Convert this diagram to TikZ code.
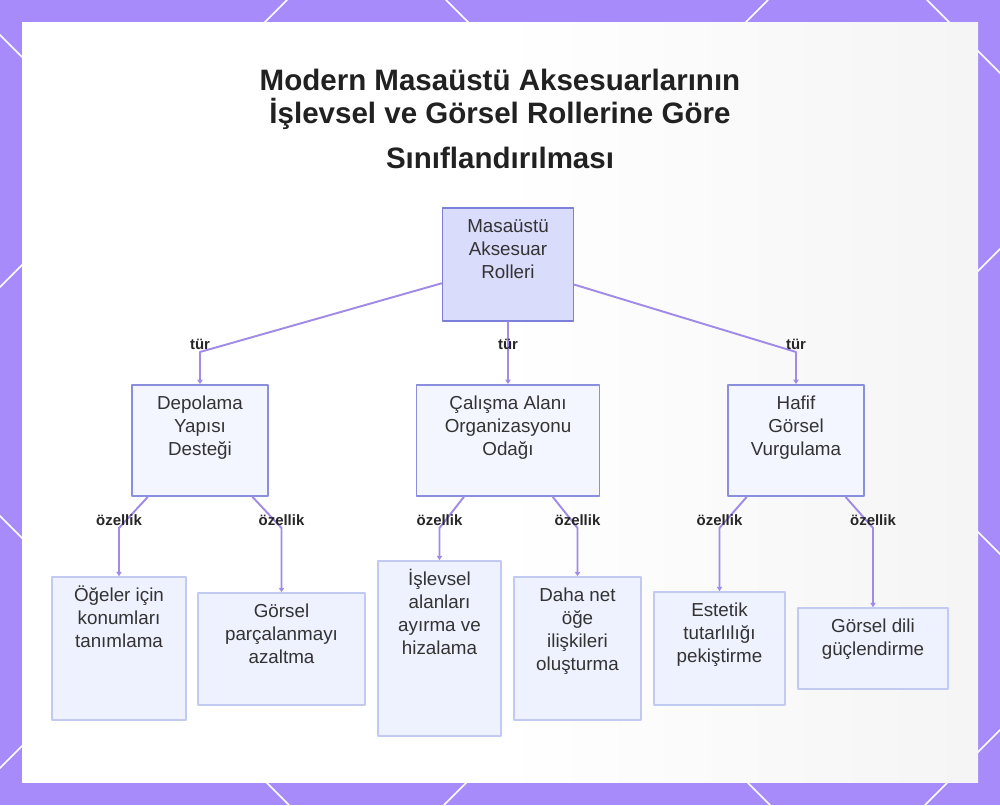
\documentclass[tikz,border=0pt]{standalone}
\usepackage{fontspec}
\setmainfont{Liberation Sans}
\usetikzlibrary{arrows,arrows.meta}

\definecolor{mor}{HTML}{A78BFA}
\definecolor{cizgi}{HTML}{A08BE6}
\definecolor{kokdolgu}{HTML}{DADCFB}
\definecolor{kokkenar}{HTML}{7C80DA}
\definecolor{aradolgu}{HTML}{F4F6FF}
\definecolor{arakenar}{HTML}{8A8EDC}
\definecolor{yaprakdolgu}{HTML}{EEF1FE}
\definecolor{yaprakkenar}{HTML}{C3CAF2}
\definecolor{yazi}{HTML}{333333}

\newlength{\birim}
\setlength{\birim}{0.02cm}
\newcommand{\kutu}[3]{\parbox[c][\dimexpr#2\birim-17\birim\relax][t]{\dimexpr#1\birim-17\birim\relax}{\centering\strut{}#3\strut}}

\tikzset{
  kutustil/.style={line width=1.1pt, inner sep=0.17cm, text=yazi, font=\fontsize{10.7}{13.1}\selectfont},
  kok/.style={kutustil, draw=kokkenar, fill=kokdolgu},
  ara/.style={kutustil, draw=arakenar, fill=aradolgu},
  yaprak/.style={kutustil, draw=yaprakkenar, fill=yaprakdolgu, line width=0.9pt},
  baglanti/.style={draw=cizgi, line width=1.1pt, -{Triangle[length=2.5pt,width=3pt]}},
  etiket/.style={font=\fontsize{8.5}{10}\selectfont\bfseries, text=black!85, inner sep=1pt, anchor=south},
}

\begin{document}
\begin{tikzpicture}[line cap=round,line join=round,x=0.02cm,y=-0.02cm]
		\useasboundingbox (0,0) rectangle (1000,805);
		%cerceve
		\fill[mor] (0,0) rectangle (1000,805);
		\begin{scope}
		\clip (0,0) rectangle (1000,805);
		\foreach \c in {287,768,1249,1730} \draw[white, line width=0.9pt] (\c,0) -- (\c-805,805);
		\foreach \c in {-516,-35,446,927} \draw[white, line width=0.9pt] (\c,0) -- (\c+805,805);
		\end{scope}
		\shade[left color=white, right color=black!4, middle color=white] (22,22) rectangle (978,782);
		%baslik
		\node[font=\fontsize{16.8}{18.4}\selectfont\bfseries, align=center, text=black!87] (baslik) at (500,119)
			{Modern Masaüstü Aksesuarlarının\\İşlevsel ve Görsel Rollerine Göre\\[0.26cm]Sınıflandırılması};
		%Kok
		\node[kok] (kok) at (508,264.5) {\kutu{131}{113}{Masaüstü\\Aksesuar\\Rolleri}};
		%Duzey 2
		\node[ara] (A) at (200,440.5) {\kutu{136}{111}{Depolama\\Yapısı\\Desteği}};
		\node[ara] (B) at (508,440.5) {\kutu{183}{111}{Çalışma Alanı\\Organizasyonu\\Odağı}};
		\node[ara] (C) at (796,440.5) {\kutu{136}{111}{Hafif\\Görsel\\Vurgulama}};
		%Yapraklar
		\node[yaprak] (A1) at (119,648.5) {\kutu{134}{143}{Öğeler için\\konumları\\tanımlama}};
		\node[yaprak] (A2) at (281.5,649) {\kutu{167}{112}{Görsel\\parçalanmayı\\azaltma}};
		\node[yaprak] (B1) at (439.5,648.5) {\kutu{123}{175}{İşlevsel\\alanları\\ayırma ve\\hizalama}};
		\node[yaprak] (B2) at (577.5,648.5) {\kutu{127}{143}{Daha net\\öğe\\ilişkileri\\oluşturma}};
		\node[yaprak] (C1) at (719.5,648.5) {\kutu{131}{113}{Estetik\\tutarlılığı\\pekiştirme}};
		\node[yaprak] (C2) at (873,648.5) {\kutu{150}{81}{Görsel dili\\güçlendirme}};
		%kirilma noktalari
		\coordinate (bA) at (200,352);
		\coordinate (bB) at (508,352);
		\coordinate (bC) at (796,352);
		\coordinate (bA1) at (119,528);
		\coordinate (bA2) at (281.5,528);
		\coordinate (bB1) at (439.5,528);
		\coordinate (bB2) at (577.5,528);
		\coordinate (bC1) at (719.5,528);
		\coordinate (bC2) at (873,528);
		%tur baglantilari
		\draw[baglanti] (kok) -- (bA) node[etiket] (tA) {tür} -- (A);
		\draw[baglanti] (kok) -- (bB) node[etiket] (tB) {tür} -- (B);
		\draw[baglanti] (kok) -- (bC) node[etiket] (tC) {tür} -- (C);
		%ozellik baglantilari
		\draw[baglanti] (A) -- (bA1) node[etiket] (oA1) {özellik} -- (A1);
		\draw[baglanti] (A) -- (bA2) node[etiket] (oA2) {özellik} -- (A2);
		\draw[baglanti] (B) -- (bB1) node[etiket] (oB1) {özellik} -- (B1);
		\draw[baglanti] (B) -- (bB2) node[etiket] (oB2) {özellik} -- (B2);
		\draw[baglanti] (C) -- (bC1) node[etiket] (oC1) {özellik} -- (C1);
		\draw[baglanti] (C) -- (bC2) node[etiket] (oC2) {özellik} -- (C2);
\end{tikzpicture}
\end{document}
